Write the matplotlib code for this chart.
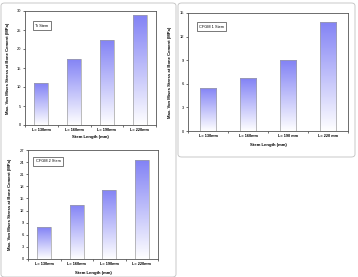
import numpy as np
import matplotlib
matplotlib.use("Agg")
import matplotlib.pyplot as plt
from matplotlib.patches import FancyBboxPatch

plt.rcParams['font.family'] = ['Liberation Sans', 'DejaVu Sans']

categories_a = ["L= 130mm", "L= 160mm", "L= 190mm", "L= 220mm"]
values_a = [11.0, 17.4, 22.4, 28.9]
yticks_a = [0, 5, 10, 15, 20, 25, 30]
label_a = "Ti Stem"

categories_b = ["L= 130mm", "L= 160mm", "L= 190 mm", "L= 220 mm"]
values_b = [5.5, 6.7, 9.0, 13.9]
yticks_b = [0, 3, 6, 9, 12, 15]
label_b = "CFGM 1 Stem"

categories_c = ["L= 130mm", "L= 160mm", "L= 190mm", "L= 220mm"]
values_c = [7.9, 13.5, 17.1, 24.5]
yticks_c = [0, 3, 6, 9, 12, 15, 18, 21, 24, 27]
label_c = "CFGM 2 Stem"

ylabel = "Max. Von Mises Stress at Bone Cement (MPa)"
xlabel = "Stem Length (mm)"

W, H = 358, 277
fig = plt.figure(figsize=(W / 100, H / 100), dpi=100)

def frac(x0, y0, x1, y1):
    return [x0 / W, 1 - y1 / H, (x1 - x0) / W, (y1 - y0) / H]

# panel frames
for (x0, y0, x1, y1) in [(1, 3, 176, 277), (178, 3, 355, 157)]:
    fig.patches.append(FancyBboxPatch((x0 / W, 1 - y1 / H), (x1 - x0) / W, (y1 - y0) / H,
                                      boxstyle="round,pad=0,rounding_size=0.01",
                                      transform=fig.transFigure, fill=False,
                                      edgecolor="#c0c0c0", linewidth=0.6))

top = np.array([130, 130, 245]) / 255.0
grad = np.linspace(0, 1, 256)[:, None, None]
img = top[None, None, :] * (1 - grad) + np.ones(3)[None, None, :] * grad

def panel(rect, cats, vals, yt, lab, lab_xy, xlabel_y):
    ax = fig.add_axes(rect)
    x = np.arange(len(cats))
    bars = ax.bar(x, vals, width=0.42, color="none", edgecolor="#a0a0a0", linewidth=0.5, zorder=3)
    ymax = yt[-1]
    for b in bars:
        x0 = b.get_x()
        x1 = x0 + b.get_width()
        h = b.get_height()
        im = ax.imshow(img, extent=[x0, x1, 0, h], aspect="auto", origin="upper", zorder=2)
        im.set_clip_path(b)
    ax.set_xlim(-0.5, len(cats) - 0.5)
    ax.set_ylim(0, ymax)
    ax.set_yticks(yt)
    ax.set_yticklabels([str(v) for v in yt], fontsize=2.9)
    ax.set_xticks(x)
    ax.set_xticklabels(cats, fontsize=2.8, fontweight="bold")
    ax.set_xticks(np.arange(len(cats) + 1) - 0.5, minor=True)
    ax.tick_params(axis="x", which="major", length=0, pad=2.5)
    ax.tick_params(axis="x", which="minor", length=1.5, width=0.4, direction="out")
    ax.tick_params(axis="y", length=1.5, width=0.4, pad=1.5)
    for s in ax.spines.values():
        s.set_linewidth(0.6)
        s.set_color("#555555")
    ax.set_ylabel(ylabel, fontsize=3.1, fontweight="bold", labelpad=5)
    ax.text(0.5, xlabel_y, xlabel, transform=ax.transAxes, ha="center", va="center",
            fontsize=3.1, fontweight="bold")
    ax.text(lab_xy[0], lab_xy[1], lab, transform=ax.transAxes, ha="left", va="center",
            fontsize=2.8, bbox=dict(boxstyle="square,pad=0.6", fc="white", ec="#444444", lw=0.5))
    return ax

panel(frac(25, 11, 156, 125), categories_a, values_a, yticks_a, label_a, (0.08, 0.87), -0.105)
panel(frac(188, 13, 348, 131), categories_b, values_b, yticks_b, label_b, (0.07, 0.885), -0.12)
panel(frac(28, 150, 158, 259), categories_c, values_c, yticks_c, label_c, (0.06, 0.895), -0.13)

fig.savefig("out.png", dpi=100)
